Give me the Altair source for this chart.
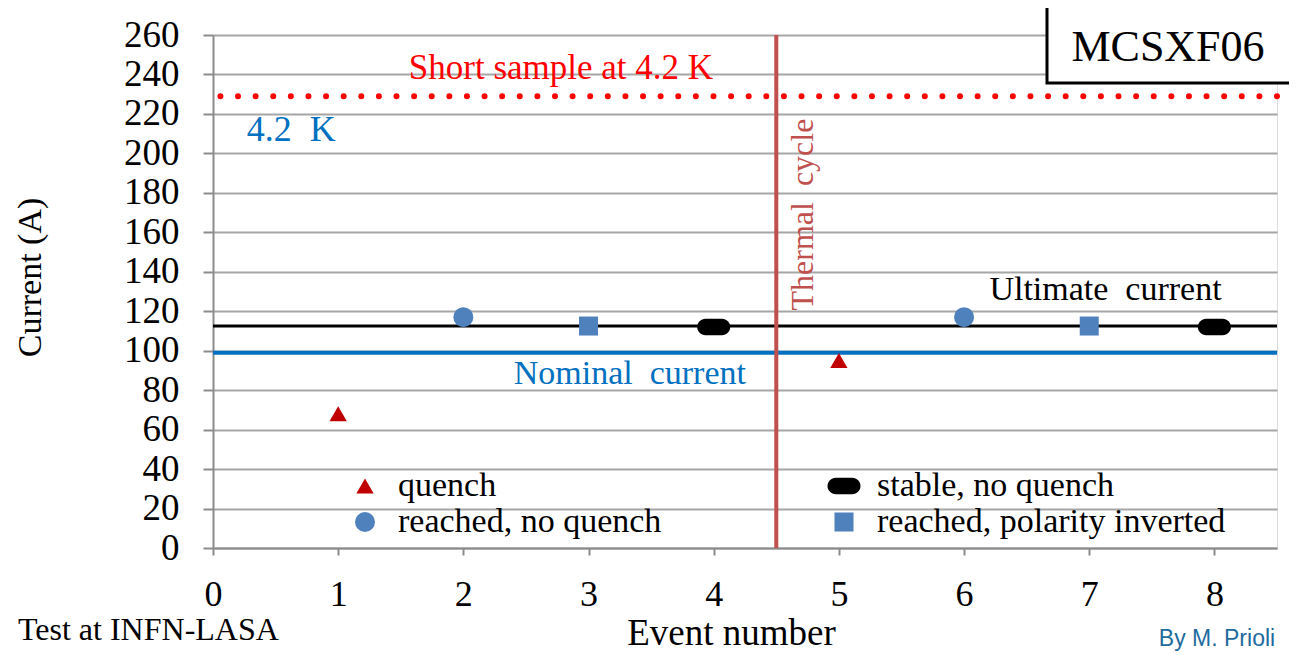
import altair as alt
import pandas as pd

# ---- data ----
events = [1, 2, 3, 4, 5, 6, 7, 8]
currents = [68, 117, 112.5, 112, 95, 117, 112.5, 112]
kinds = ["quench", "reached, no quench", "reached, polarity inverted", "stable, no quench",
         "quench", "reached, no quench", "reached, polarity inverted", "stable, no quench"]

legend_order = ["quench", "reached, no quench", "stable, no quench", "reached, polarity inverted"]
legend_colors = ["#C00000", "#4F81BD", "#000000", "#4F81BD"]
capsule = "M -0.5 -0.5 H 0.5 A 0.5 0.5 0 0 1 0.5 0.5 H -0.5 A 0.5 0.5 0 0 1 -0.5 -0.5 Z"
legend_shapes = ["triangle-up", "circle", capsule, "square"]
legend_sizes = [300, 400, 1089, 361]

short_sample = 229
ultimate_current = 112.5
nominal_current = 99
thermal_cycle = 4.5

y_ticks = list(range(0, 261, 20))
x_ticks = list(range(0, 9))

SERIF = "Liberation Serif"

df = pd.DataFrame({"event": events, "current": currents, "kind": kinds})

xs = alt.Scale(domain=[0, 8.5], nice=False, zero=False)
ys = alt.Scale(domain=[0, 260], nice=False)


def X(field="event"):
    return alt.X(f"{field}:Q", scale=xs,
                 axis=alt.Axis(values=x_ticks, format="d", title="Event number"))


def Y(field="current"):
    return alt.Y(f"{field}:Q", scale=ys,
                 axis=alt.Axis(values=y_ticks, format="d", title="Current (A)"))


points = alt.Chart(df).mark_point(filled=True, opacity=1, strokeWidth=0).encode(
    x=X(),
    y=Y(),
    color=alt.Color("kind:N", scale=alt.Scale(domain=legend_order, range=legend_colors),
                    legend=alt.Legend(title=None, orient="none", legendX=135, legendY=434,
                                      columns=2, columnPadding=165, rowPadding=2,
                                      labelFont=SERIF, labelFontSize=34, labelColor="black",
                                      labelOffset=16, labelLimit=500, padding=0,
                                      symbolStrokeWidth=0)),
    shape=alt.Shape("kind:N", scale=alt.Scale(domain=legend_order, range=legend_shapes)),
    size=alt.Size("kind:N", scale=alt.Scale(type="ordinal", domain=legend_order,
                                            range=legend_sizes)),
)

ult = alt.Chart(pd.DataFrame({"current": [ultimate_current]})).mark_rule(
    color="black", strokeWidth=3).encode(y=Y())
nom = alt.Chart(pd.DataFrame({"current": [nominal_current]})).mark_rule(
    color="#0070C0", strokeWidth=4).encode(y=Y())
ss = alt.Chart(pd.DataFrame({"current": [short_sample]})).mark_rule(
    color="#FF0000", strokeWidth=6, strokeDash=[0.01, 17.6], strokeCap="round").encode(y=Y())
tc = alt.Chart(pd.DataFrame({"event": [thermal_cycle]})).mark_rule(
    color="#C0504D", strokeWidth=4).encode(x=X())

NB = "\u00a0"
ann = [
    (2.78, 243.3, "Short" + NB + "sample" + NB + "at" + NB + "4.2" + NB + "K", "#FF0000", "center", 35),
    (0.27, 212, "4.2" + NB + NB + "K", "#0070C0", "left", 36),
    (3.33, 88.2, "Nominal" + NB + NB + "current", "#0070C0", "center", 34),
    (7.13, 130.8, "Ultimate" + NB + NB + "current", "#000000", "center", 34),
]
texts = []
for ax, ay, t, c, al, fs in ann:
    texts.append(alt.Chart(pd.DataFrame({"event": [ax], "current": [ay], "text": [t]})).mark_text(
        font=SERIF, fontSize=fs, color=c, align=al, baseline="middle"
    ).encode(x=X(), y=Y(), text="text:N"))

thermal_txt = alt.Chart(pd.DataFrame({"event": [4.71], "current": [169],
                                      "text": ["Thermal" + NB + NB + "cycle"]})).mark_text(
    font=SERIF, fontSize=32, color="#C0504D", angle=270, align="center", baseline="middle"
).encode(x=X(), y=Y(), text="text:N")

one = pd.DataFrame({"t": ["MCSXF06"]})
box = alt.Chart(one).mark_rect(fill="white", stroke="black", strokeWidth=3).encode(
    x=alt.value(834), x2=alt.value(1120), y=alt.value(-29), y2=alt.value(48))
box_txt = alt.Chart(one).mark_text(font=SERIF, fontSize=44, color="black",
                                   align="center", baseline="middle").encode(
    x=alt.value(955), y=alt.value(13), text="t:N")

lasa = alt.Chart(pd.DataFrame({"t": ["Test at INFN-LASA"]})).mark_text(
    font=SERIF, fontSize=32, color="black", align="left", baseline="middle").encode(
    x=alt.value(-195), y=alt.value(595), text="t:N")
prioli = alt.Chart(pd.DataFrame({"t": ["By M. Prioli"]})).mark_text(
    font="Liberation Sans", fontSize=23, color="#1F6B9E", align="center", baseline="middle").encode(
    x=alt.value(1004), y=alt.value(604), text="t:N")

chart = alt.layer(ss, nom, ult, tc, points, *texts, thermal_txt, box, box_txt, lasa, prioli).properties(
    width=1064, height=513,
    autosize=alt.AutoSizeParams(type="none"),
    padding={"left": 205, "top": 27, "right": 12, "bottom": 107},
).configure_view(stroke=None).configure(background="white").configure_axisX(
    grid=False, labelFont=SERIF, labelFontSize=36, labelColor="black", labelPadding=22,
    labelOverlap=False, labelFlush=False, tickSize=7, tickColor="#8C8C8C", tickWidth=2,
    domainColor="#8C8C8C", domainWidth=2,
    titleFont=SERIF, titleFontSize=37, titleFontWeight="normal", titleColor="black",
    titleX=518, titleY=96, titleBaseline="alphabetic", titleAlign="center",
).configure_axisY(
    grid=True, gridColor="#A6A6A6", gridWidth=2,
    labelFont=SERIF, labelFontSize=37, labelColor="black", labelPadding=24,
    labelOverlap=False, labelFlush=False, tickSize=10, tickColor="#8C8C8C", tickWidth=2,
    domainColor="#8C8C8C", domainWidth=2,
    titleFont=SERIF, titleFontSize=34, titleFontWeight="normal", titleColor="black",
    titleX=-183, titleY=242, titleAngle=270, titleBaseline="middle", titleAlign="center",
)

chart.save("out.html", embed_options={"renderer": "svg", "actions": False})
